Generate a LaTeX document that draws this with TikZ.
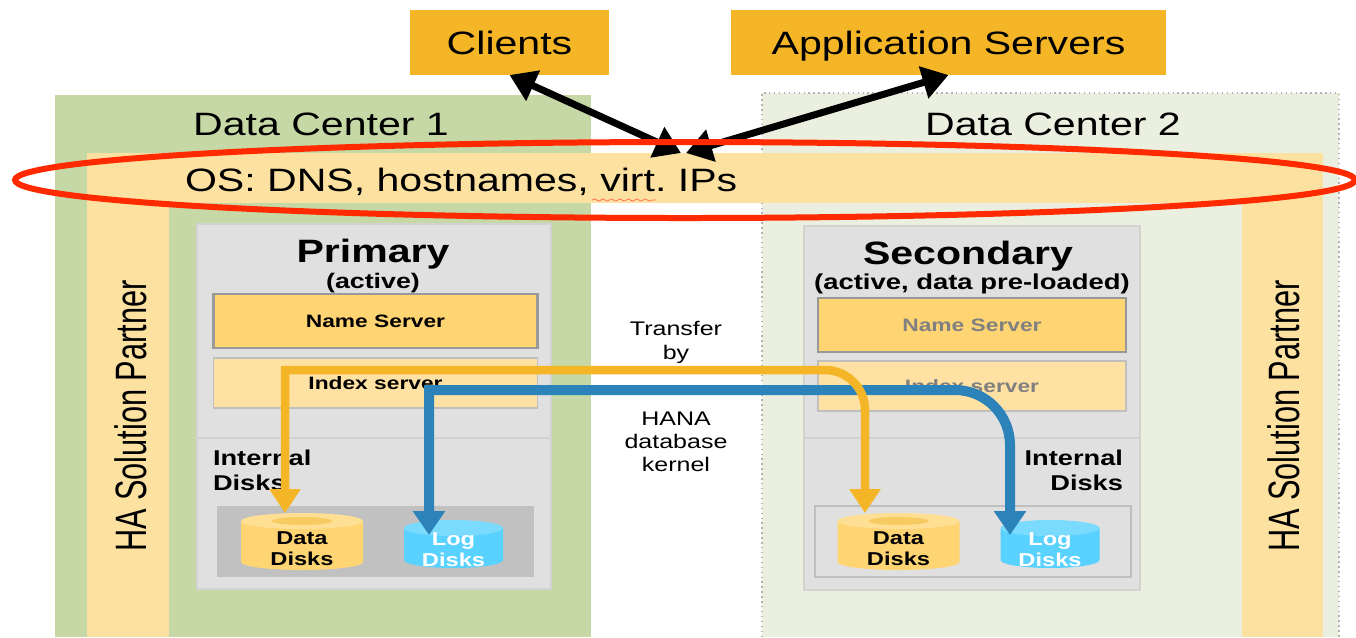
\documentclass[tikz,border=0pt]{standalone}
\usepackage{fontspec}
\setmainfont[FakeStretch=1.27]{Liberation Sans}
\newfontfamily\sideFont[FakeStretch=0.7]{Liberation Sans}
\usetikzlibrary{arrows.meta,shapes.geometric,decorations.pathmorphing}

\definecolor{SiteGreen}{HTML}{C5D8A6}
\definecolor{SitePale}{HTML}{EBEFE0}
\definecolor{BandBg}{HTML}{FDE1A1}
\definecolor{HostBg}{HTML}{E0E0E0}
\definecolor{HostFrame}{HTML}{D2D2D2}
\definecolor{TrayBg}{HTML}{C1C1C1}
\definecolor{EntryHdr}{HTML}{F4B627}
\definecolor{NameBg}{HTML}{FFD473}
\definecolor{IndexBg}{HTML}{FFE2A3}
\definecolor{DataTop}{HTML}{FFDF94}
\definecolor{DataWell}{HTML}{F8CB62}
\definecolor{LogBg}{HTML}{5AD2FF}
\definecolor{LogTop}{HTML}{7ADBFF}
\definecolor{FlowBlue}{HTML}{2B83BA}
\definecolor{RingRed}{HTML}{FF2A00}

% node name, body colour, lid colour, radius
\newcommand{\drawdisk}[4]{%
  \fill[#2] ([yshift=-0.08cm]#1.north west) -- ([yshift=0.08cm]#1.south west)
    arc[start angle=180, end angle=360, x radius=#4, y radius=0.08]
    -- ([yshift=-0.08cm]#1.north east) -- cycle;
  \fill[#3] ([yshift=-0.08cm]#1.north) ellipse (#4 and 0.08);
}

\tikzset{
  entrybox/.style={fill=EntryHdr, text height=0.24cm, text depth=0pt, font=\fontsize{9.2}{11}\selectfont},
  sitelabel/.style={font=\fontsize{9.2}{11}\selectfont},
  sidelabel/.style={rotate=90, font=\sideFont\fontsize{12.5}{15}\selectfont},
  namebox/.style={fill=NameBg, draw=black!40, line width=0.6pt, minimum width=3.24cm, minimum height=0.54cm, text height=0.13cm, text depth=0pt, font=\fontsize{5.1}{6}\selectfont\bfseries},
  indexbox/.style={fill=IndexBg, draw=black!25, line width=0.5pt, minimum width=3.24cm, minimum height=0.50cm, text height=0.13cm, text depth=0pt, font=\fontsize{5.1}{6}\selectfont\bfseries},
  disklabel/.style={font=\fontsize{6.1}{7.2}\selectfont\bfseries, align=left},
  datadisk/.style={minimum width=1.22cm, minimum height=0.57cm},
  logdisk/.style={minimum width=0.99cm, minimum height=0.48cm},
  datatext/.style={align=center, font=\fontsize{5.3}{6}\selectfont\bfseries},
  logtext/.style={align=center, text=white, font=\fontsize{5.3}{6}\selectfont\bfseries},
  blackflow/.style={<->, >={Triangle[width=0.32cm,length=0.26cm]}, line width=0.07cm, black},
  yellowflow/.style={<->, >={Triangle[width=0.30cm,length=0.24cm]}, line width=0.085cm, EntryHdr},
  blueflow/.style={<->, >={Triangle[width=0.31cm,length=0.24cm]}, line width=0.10cm, FlowBlue},
}

\begin{document}
\begin{tikzpicture}[
  every node/.style={inner sep=0pt, outer sep=0pt},
]
\useasboundingbox (0,0) rectangle (13.56,-6.37);

% ── sites ──
\fill[SiteGreen] (0.55,-6.37) rectangle (5.91,-0.95);
\fill[SitePale] (7.62,-6.37) rectangle (13.39,-0.93);
\draw[black!30, densely dotted, line width=0.4pt] (7.62,-6.37) -- (7.62,-0.93) -- (13.39,-0.93) -- (13.39,-6.37);
\node (site1) [sitelabel] at (3.21,-1.24) {Data Center 1};
\node (site2) [sitelabel] at (10.53,-1.24) {Data Center 2};

% ── bands ──
\fill[BandBg] (0.87,-6.37) rectangle (1.69,-1.53);
\fill[BandBg] (12.42,-6.37) rectangle (13.23,-1.53);
\node (osband) [fill=BandBg, minimum width=12.36cm, minimum height=0.50cm] at (7.05,-1.78) {};
\node (oslabel) [sitelabel, anchor=west] at (1.85,-1.82) {OS: DNS, hostnames, virt.\ IPs};
\draw[RingRed!70, line width=0.2pt, decorate, decoration={snake, amplitude=0.3pt, segment length=2.4pt}] (5.92,-2.00) -- (6.56,-2.00);
\node (hapartner1) [sidelabel] at (1.31,-4.16) {HA Solution Partner};
\node (hapartner2) [sidelabel] at (12.84,-4.16) {HA Solution Partner};

% ── entry points ──
\node (clients) [entrybox, minimum width=1.99cm, minimum height=0.65cm] at (5.095,-0.425) {Clients};
\node (appservers) [entrybox, minimum width=4.35cm, minimum height=0.65cm] at (9.485,-0.425) {Application Servers};

% ── Primary ──
\fill[HostBg] (1.97,-5.89) rectangle (5.51,-2.24);
\draw[HostFrame, line width=0.4pt] (1.97,-5.89) rectangle (5.51,-2.24);
\draw[HostFrame, line width=0.4pt] (1.97,-4.38) -- (5.51,-4.38);
\node (primary) [font=\fontsize{9.2}{11}\selectfont\bfseries] at (3.73,-2.54) {Primary};
\node (primarynote) [font=\fontsize{6}{7}\selectfont\bfseries] at (3.73,-2.83) {(active)};
\node (name1) [namebox] at (3.755,-3.21) {Name Server};
\node (index1) [indexbox] at (3.755,-3.83) {Index server};
\node (disks1) [disklabel, anchor=north west] at (2.13,-4.50) {Internal\\Disks};
\fill[TrayBg] (2.17,-5.77) rectangle (5.34,-5.06);
\node (data1) [datadisk] at (3.02,-5.415) {};
\node (log1) [logdisk] at (4.535,-5.44) {};
\drawdisk{data1}{NameBg}{DataTop}{0.61}
\drawdisk{log1}{LogBg}{LogTop}{0.495}
\fill[DataWell] ([yshift=-0.08cm]data1.north) ellipse (0.30 and 0.04);
\node (datatext1) [datatext] at (3.02,-5.485) {Data\\Disks};
\node (logtext1) [logtext] at (4.535,-5.50) {Log\\Disks};

% ── Secondary ──
\fill[HostBg] (8.04,-5.90) rectangle (11.40,-2.26);
\draw[HostFrame, line width=0.6pt] (8.04,-5.90) rectangle (11.40,-2.26);
\draw[HostFrame, line width=0.4pt] (8.04,-4.38) -- (11.40,-4.38);
\node (secondary) [font=\fontsize{9.2}{11}\selectfont\bfseries] at (9.68,-2.56) {Secondary};
\node (secondarynote) [font=\fontsize{6.15}{7}\selectfont\bfseries] at (9.72,-2.84) {(active, data pre-loaded)};
\node (name2) [namebox, minimum width=3.08cm, text=black!50] at (9.72,-3.25) {Name Server};
\node (index2) [indexbox, minimum width=3.08cm, text=black!50] at (9.72,-3.86) {Index server};
\node (disks2) [disklabel, anchor=north east, align=right] at (11.23,-4.50) {Internal\\Disks};
\draw[black!25, fill=HostBg, line width=0.4pt] (8.15,-5.77) rectangle (11.31,-5.06);
\node (data2) [datadisk] at (8.985,-5.415) {};
\node (log2) [logdisk] at (10.50,-5.44) {};
\drawdisk{data2}{NameBg}{DataTop}{0.61}
\drawdisk{log2}{LogBg}{LogTop}{0.495}
\fill[DataWell] ([yshift=-0.08cm]data2.north) ellipse (0.30 and 0.04);
\node (datatext2) [datatext] at (8.985,-5.485) {Data\\Disks};
\node (logtext2) [logtext] at (10.50,-5.50) {Log\\Disks};

% ── transfer ──
\node (transfer) [align=center, font=\fontsize{5.6}{7}\selectfont] at (6.76,-3.425) {Transfer\\by};
\node (kernel) [align=center, font=\fontsize{5.6}{6.6}\selectfont] at (6.76,-4.42) {HANA\\database\\kernel};

% ── flows ──
\coordinate (yellowrun) at (6.76,-3.70);
\coordinate (bluerun) at (6.76,-3.90);
\draw[blueflow] ([xshift=-0.245cm,yshift=-0.15cm]log1.north) -- ([xshift=-0.245cm]log1.north |- bluerun) -- (bluerun)
  [rounded corners=0.55cm] -- ([xshift=-0.40cm]log2.north |- bluerun) -- ([xshift=-0.40cm,yshift=-0.15cm]log2.north);
\draw[yellowflow] ([xshift=-0.17cm]data1.north) -- ([xshift=-0.17cm]data1.north |- yellowrun) -- (yellowrun)
  [rounded corners=0.4cm] -- ([xshift=-0.335cm]data2.north |- yellowrun) -- ([xshift=-0.335cm]data2.north);
\draw[blackflow] (clients.south) -- ([xshift=-0.24cm]osband.north);
\draw[blackflow] (appservers.south) -- ([xshift=-0.19cm]osband.north);

% ── ring ──
\node (ring) [shape=ellipse, draw=RingRed, line width=0.06cm, minimum width=13.40cm, minimum height=0.76cm] at (6.85,-1.80) {};

\end{tikzpicture}
\end{document}
